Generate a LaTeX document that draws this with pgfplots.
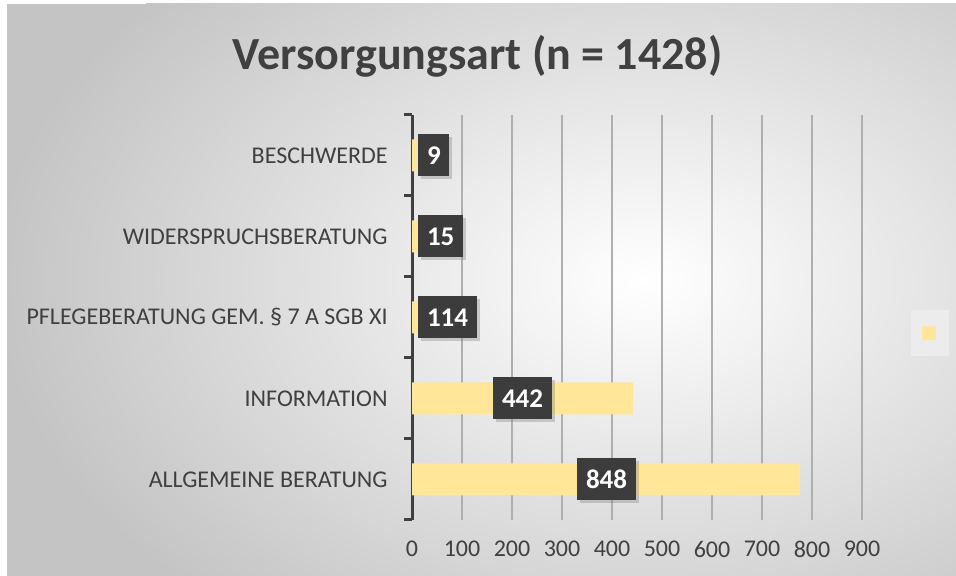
\documentclass[border=0pt]{standalone}
\usepackage{fontspec}
\setmainfont{Carlito}
\usepackage{pgfplots}
\pgfplotsset{compat=1.18}
\usepackage{pgfplotstable}
\usetikzlibrary{shadows}
\definecolor{bgouter}{RGB}{196,196,196}
\definecolor{txtgray}{RGB}{64,64,64}
\definecolor{barfill}{RGB}{255,230,153}
\definecolor{labbox}{RGB}{60,60,60}
\definecolor{gridgray}{RGB}{175,175,175}
\definecolor{legbg}{RGB}{236,236,236}

% pos = category row, len = drawn bar length, lab = data label, labx = label left edge
\pgfplotstableread{
pos len lab labx
0 776 848 330
1 442 442 162
2 114 114 12
3 15 15 12
4 9 9 12
}\versorgung

\begin{document}
\begin{tikzpicture}
\useasboundingbox (0,0) rectangle (478pt,288pt);
\fill[white] (0,0) rectangle (478pt,288pt);
\begin{scope}
  \clip (3.5pt,0) rectangle (478pt,286pt);
  \fill[bgouter] (3.5pt,0) rectangle (478pt,286pt);
  \shade[inner color=white, outer color=bgouter] (322pt,148pt) ellipse (325pt and 215pt);
\end{scope}
\node[anchor=base, font=\bfseries\fontsize{23}{27}\selectfont, text=txtgray]
  at (238.75pt,253pt) {Versorgungsart (n = 1428)};
\begin{axis}[
  at={(206pt,28pt)}, anchor=south west,
  scale only axis,
  width=225pt, height=202.5pt,
  xmin=0, xmax=900,
  ymin=-0.5, ymax=4.5,
  xtick={0,100,...,900},
  ytick={0,1,2,3,4},
  yticklabels={ALLGEMEINE BERATUNG, INFORMATION, PFLEGEBERATUNG GEM. § 7 A SGB XI, WIDERSPRUCHSBERATUNG, BESCHWERDE},
  minor ytick={-0.5,0.5,...,4.5},
  axis x line*=bottom, axis y line*=left,
  x axis line style={draw=none},
  y axis line style={txtgray, line width=1.5pt},
  major tick length=0pt, minor tick length=4pt,
  tick align=outside,
  minor tick style={txtgray, line width=1.5pt},
  xmajorgrids,
  grid style={gridgray, line width=0.6pt},
  /pgf/number format/assume math mode=true,
  xticklabel style={font=\fontsize{12}{14}\selectfont, text=txtgray, inner sep=0pt, yshift=-10.5pt},
  yticklabel style={font=\fontsize{12}{14}\selectfont, text=txtgray, inner sep=0pt, xshift=-12pt},
  clip=false,
  legend image code/.code={\fill[barfill] (0pt,-3.5pt) rectangle (7pt,3.5pt);},
  legend style={at={(1.151,0.4605)}, anchor=center, draw=none, fill=legbg,
    inner xsep=5.5pt, inner ysep=8pt, nodes={inner sep=0pt}, column sep=0pt},
]
\addplot[xbar, bar width=16pt, fill=barfill, draw=none]
  table[x=len, y=pos] {\versorgung};
\addlegendentry{}
\addplot[draw=none, forget plot,
  nodes near coords, nodes near coords align=horizontal,
  point meta=explicit symbolic,
  nodes near coords style={anchor=west, fill=labbox, text=white,
    font=\bfseries\fontsize{13.5}{16}\selectfont,
    inner xsep=4.3pt, inner ysep=0pt, minimum height=21pt,
    drop shadow={shadow xshift=1.5pt, shadow yshift=-1.5pt, opacity=0.35}}]
  table[x=labx, y=pos, meta=lab] {\versorgung};
\end{axis}
\end{tikzpicture}
\end{document}
